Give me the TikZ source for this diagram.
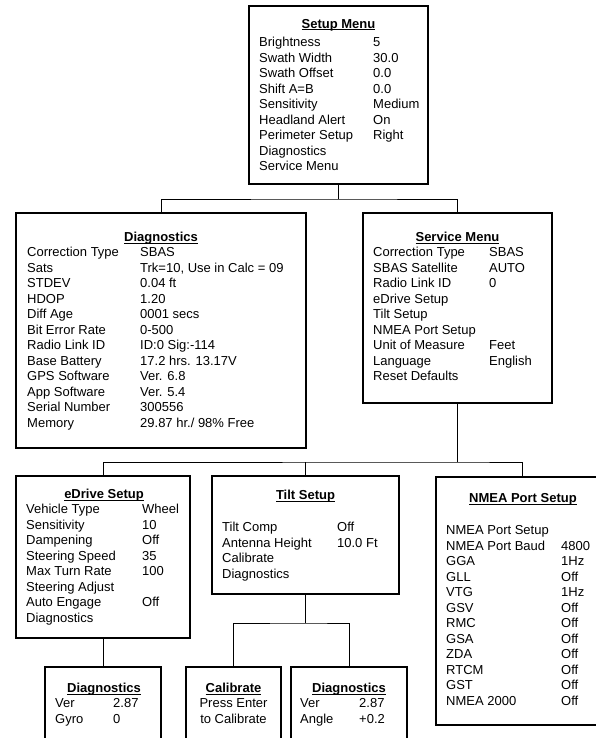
\documentclass[tikz,border=0pt]{standalone}
\usepackage{fontspec}
\setmainfont{Liberation Sans}
\usepackage{array}
\usetikzlibrary{positioning}

\newcommand{\hd}[1]{\setbox0=\hbox{#1}\makebox[0pt][l]{\rule[-1.7bp]{\wd0}{0.8bp}}\box0}

\begin{document}
\begin{tikzpicture}[x=1bp,y=-1bp,
menu/.style={rectangle,draw=black,line width=1.4bp,inner sep=0pt},
head/.style={anchor=base,inner sep=0pt,font=\fontsize{13bp}{15.5bp}\selectfont\bfseries},
rows/.style={anchor=north west,inner sep=0pt,font=\fontsize{13bp}{15.5bp}\selectfont},
link/.style={line width=0.8bp}]
\useasboundingbox (0,0) rectangle (596,738);

% boxes
\node[menu,minimum width=179bp,minimum height=178bp] (setup) at (338.5,95) {};
\node[menu,minimum width=290bp,minimum height=235bp] (diag) at (161,330.5) {};
\node[menu,minimum width=189bp,minimum height=190bp] (service) at (457.5,308) {};
\node[menu,minimum width=174bp,minimum height=162bp] (edrive) at (103,557) {};
\node[menu,minimum width=187bp,minimum height=118bp] (tilt) at (305.5,535) {};
\node[menu,minimum width=172bp,minimum height=248bp] (nmea) at (522,601) {};
\node[menu,minimum width=116bp,minimum height=103bp] (diagE) at (103,718.5) {};
\node[menu,minimum width=95bp,minimum height=103bp] (calib) at (233.5,718.5) {};
\node[menu,minimum width=116bp,minimum height=103bp] (diagT) at (349,718.5) {};

% titles
\node[head] (setupT) at (338.5,28.6) {\hd{Setup Menu}};
\node[head] (diagHT) at (161,241.6) {\hd{Diagnostics}};
\node[head] (serviceT) at (457.5,241.6) {\hd{Service Menu}};
\node[head] (edriveT) at (104,498.6) {\hd{eDrive Setup}};
\node[head] (tiltT) at (305.5,499.6) {\hd{Tilt Setup}};
\node[head] (nmeaT) at (523,502.6) {\hd{NMEA Port Setup}};
\node[head] (diagET) at (104,692.6) {\hd{Diagnostics}};
\node[head] (calibT) at (233.5,692.6) {\hd{Calibrate}};
\node[head] (diagTT) at (349,692.6) {\hd{Diagnostics}};

% contents
\node[rows] (setupL) at (259,35.5) {\begin{tabular}{@{}p{114bp}@{}l@{}}
Brightness & 5\\
Swath Width & 30.0\\
Swath Offset & 0.0\\
Shift A=B & 0.0\\
Sensitivity & Medium\\
Headland Alert & On\\
Perimeter Setup & Right\\
Diagnostics\\
Service Menu
\end{tabular}};
\node[rows] (diagL) at (27,245.75) {\begin{tabular}{@{}p{113bp}@{}l@{}}
Correction Type & SBAS\\
Sats & Trk=10, Use in Calc = 09\\
STDEV & 0.04 ft\\
HDOP & 1.20\\
Diff Age & 0001 secs\\
Bit Error Rate & 0-500\\
Radio Link ID & ID:0 Sig:-114\\
Base Battery & 17.2 hrs. 13.17V\\
GPS Software & Ver. 6.8\\
App Software & Ver. 5.4\\
Serial Number & 300556\\
Memory & 29.87 hr./ 98\% Free
\end{tabular}};
\node[rows] (serviceL) at (373,245.75) {\begin{tabular}{@{}p{116bp}@{}l@{}}
Correction Type & SBAS\\
SBAS Satellite & AUTO\\
Radio Link ID & 0\\
eDrive Setup\\
Tilt Setup\\
NMEA Port Setup\\
Unit of Measure & Feet\\
Language & English\\
Reset Defaults
\end{tabular}};
\node[rows] (edriveL) at (26,502.75) {\begin{tabular}{@{}p{116bp}@{}l@{}}
Vehicle Type & Wheel\\
Sensitivity & 10\\
Dampening & Off\\
Steering Speed & 35\\
Max Turn Rate & 100\\
Steering Adjust\\
Auto Engage & Off\\
Diagnostics
\end{tabular}};
\node[rows] (tiltL) at (222,520.75) {\begin{tabular}{@{}p{115bp}@{}l@{}}
Tilt Comp & Off\\
Antenna Height & 10.0 Ft\\
Calibrate\\
Diagnostics
\end{tabular}};
\node[rows] (nmeaL) at (446,523.75) {\begin{tabular}{@{}p{115bp}@{}l@{}}
NMEA Port Setup\\
NMEA Port Baud & 4800\\
GGA & 1Hz\\
GLL & Off\\
VTG & 1Hz\\
GSV & Off\\
RMC & Off\\
GSA & Off\\
ZDA & Off\\
RTCM & Off\\
GST & Off\\
NMEA 2000 & Off
\end{tabular}};
\node[rows] (diagEL) at (55,696.75) {\begin{tabular}{@{}p{58bp}@{}l@{}}
Ver & 2.87\\
Gyro & 0
\end{tabular}};
\node[rows,anchor=north] (calibL) at (233.5,696.75) {\begin{tabular}{@{}c@{}}
Press Enter\\
to Calibrate
\end{tabular}};
\node[rows] (diagTL) at (300,696.75) {\begin{tabular}{@{}p{59bp}@{}l@{}}
Ver & 2.87\\
Angle & +0.2
\end{tabular}};

% connectors
\coordinate (bus1) at (338.5,199);
\coordinate (bus2) at (457.5,462);
\coordinate (bus3) at (305.5,623);
\draw[link] (setup.south) -- (bus1);
\draw[link] (diag.north) |- (bus1) -| (service.north);
\draw[link] (service.south) -- (bus2);
\draw[link] (edrive.north) |- (bus2) -| (nmea.north);
\draw[link] (tilt.north) -- (tilt.north |- bus2);
\draw[link] (edrive.south) -- (diagE.north);
\draw[link] (tilt.south) -- (bus3);
\draw[link] (calib.north) |- (bus3) -| (diagT.north);
\end{tikzpicture}
\end{document}
